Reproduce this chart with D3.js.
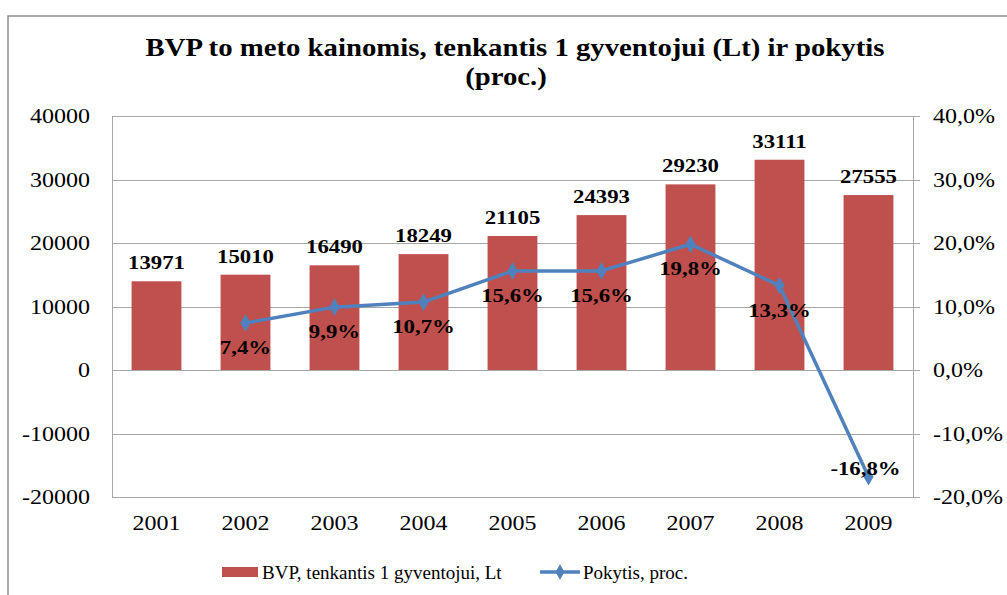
<!DOCTYPE html>
<meta charset="utf-8">
<style>
body { margin: 0; background: #fff; }
text { font-family: "Liberation Serif", "Times New Roman", serif; fill: #000; }
.grid line { stroke: #a6a6a6; stroke-width: 1; }
</style>
<svg width="1007" height="595"></svg>
<script src="https://d3js.org/d3.v7.min.js"></script>
<script>
var years = ["2001", "2002", "2003", "2004", "2005", "2006", "2007", "2008", "2009"];
var bvp = [13971, 15010, 16490, 18249, 21105, 24393, 29230, 33111, 27555];
var change = [null, 7.4, 9.9, 10.7, 15.6, 15.6, 19.8, 13.3, -16.8];
var leftTicks = [-20000, -10000, 0, 10000, 20000, 30000, 40000];
var rightTicks = [-20, -10, 0, 10, 20, 30, 40];

var svg = d3.select("svg");
var pLeft = 112, pRight = 913, pTop = 116, pBottom = 497;
var sx = 1.2; // text in the picture is drawn a little wide

var x = d3.scaleBand().domain(years).range([pLeft, pRight]).paddingInner(0.44).paddingOuter(0.22);
var y = d3.scaleLinear().domain([-20000, 40000]).range([pBottom, pTop]);
var y2 = d3.scaleLinear().domain([-20, 40]).range([pBottom, pTop]);

function label(g, px, py, str, size, anchor, bold, stretch) {
  return g.append("text")
    .attr("transform", "translate(" + px + "," + py + ") scale(" + (stretch || sx) + ",1)")
    .attr("text-anchor", anchor)
    .style("font-size", size + "px")
    .style("font-weight", bold ? "bold" : "normal")
    .text(str);
}

// frame
svg.append("rect").attr("x", 8).attr("y", 16).attr("width", 1100).attr("height", 700)
  .attr("fill", "none").attr("stroke", "#8c8c8c").attr("stroke-width", 1.5);

// title
label(svg, 515, 56, "BVP to meto kainomis, tenkantis 1 gyventojui (Lt) ir pokytis", 25, "middle", true, 1.15);
label(svg, 506, 85, "(proc.)", 25, "middle", true, 1.15);

// grid
svg.append("g").attr("class", "grid")
  .selectAll("line").data(leftTicks).enter().append("line")
  .attr("x1", pLeft).attr("x2", pRight + 7)
  .attr("y1", function(d) { return Math.round(y(d)) + 0.5; })
  .attr("y2", function(d) { return Math.round(y(d)) + 0.5; });

svg.append("line").attr("x1", pLeft + 0.5).attr("x2", pLeft + 0.5).attr("y1", pTop).attr("y2", pBottom)
  .attr("stroke", "#a6a6a6");
svg.append("line").attr("x1", pRight + 0.5).attr("x2", pRight + 0.5).attr("y1", pTop).attr("y2", pBottom)
  .attr("stroke", "#a6a6a6");

// axis labels
var ax = svg.append("g");
leftTicks.forEach(function(t) { label(ax, 90, y(t) + 7, String(t), 20, "end", false); });
rightTicks.forEach(function(t) { label(ax, 933, y2(t) + 7, t.toFixed(1).replace(".", ",") + "%", 20, "start", false); });
years.forEach(function(yr) { label(ax, x(yr) + x.bandwidth() / 2, 530, yr, 20, "middle", false); });

// bars
svg.append("g").selectAll("rect").data(bvp).enter().append("rect")
  .attr("x", function(d, i) { return x(years[i]); })
  .attr("width", x.bandwidth())
  .attr("y", function(d) { return y(d); })
  .attr("height", function(d) { return y(0) - y(d); })
  .attr("fill", "#c0504d");

var bl = svg.append("g");
bvp.forEach(function(d, i) { label(bl, x(years[i]) + x.bandwidth() / 2, y(d) - 12, String(d), 19, "middle", true); });

// line
var pts = change.map(function(d, i) { return { v: d, yr: years[i] }; }).filter(function(p) { return p.v !== null; });
var line = d3.line().x(function(p) { return x(p.yr) + x.bandwidth() / 2; }).y(function(p) { return y2(p.v); });
svg.append("path").datum(pts).attr("d", line).attr("fill", "none")
  .attr("stroke", "#4f81bd").attr("stroke-width", 3.5).attr("stroke-linejoin", "round");
svg.append("g").selectAll("path").data(pts).enter().append("path")
  .attr("d", d3.symbol().type(d3.symbolDiamond).size(90))
  .attr("transform", function(p) { return "translate(" + (x(p.yr) + x.bandwidth() / 2) + "," + y2(p.v) + ")"; })
  .attr("fill", "#4f81bd");

var pl = svg.append("g");
pts.forEach(function(p) {
  var cx = x(p.yr) + x.bandwidth() / 2, cy = y2(p.v) + 31;
  if (cy > pBottom - 5) { cy = y2(p.v) - 2; cx -= 3; }
  label(pl, cx, cy, p.v.toFixed(1).replace(".", ",") + "%", 19, "middle", true);
});

// legend
var lg = svg.append("g");
lg.append("rect").attr("x", 222).attr("y", 567).attr("width", 36).attr("height", 10).attr("fill", "#c0504d");
label(lg, 262, 579, "BVP, tenkantis 1 gyventojui, Lt", 19, "start", false, 1);
lg.append("line").attr("x1", 540).attr("x2", 580).attr("y1", 572).attr("y2", 572)
  .attr("stroke", "#4f81bd").attr("stroke-width", 3.5);
lg.append("path").attr("d", d3.symbol().type(d3.symbolDiamond).size(70)).attr("transform", "translate(560,572)")
  .attr("fill", "#4f81bd");
label(lg, 583, 579, "Pokytis, proc.", 19, "start", false, 1);
</script>
